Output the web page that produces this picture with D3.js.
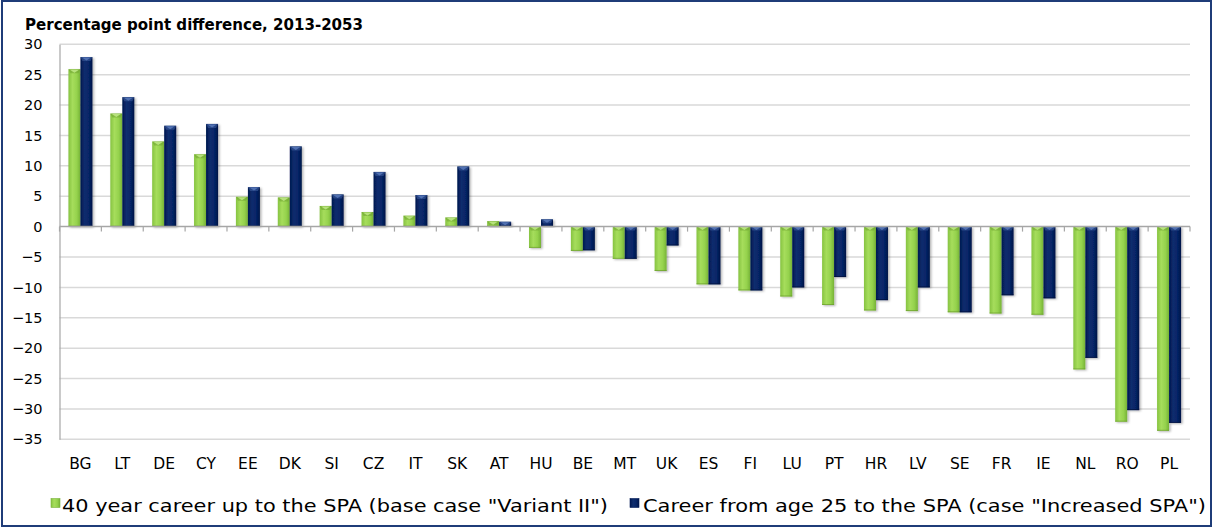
<!DOCTYPE html>
<html><head><meta charset="utf-8">
<script src="https://cdn.jsdelivr.net/npm/d3@7"></script>
<style>
html,body{margin:0;padding:0;background:#fff;}
svg{display:block;}
text{font-family:"DejaVu Sans",sans-serif;fill:#000;}
</style></head>
<body>
<svg id="chart" width="1213" height="531"></svg>
<script>
const categories = ["BG","LT","DE","CY","EE","DK","SI","CZ","IT","SK","AT","HU","BE","MT","UK","ES","FI","LU","PT","HR","LV","SE","FR","IE","NL","RO","PL"];
const variantII = [25.9,18.6,14.0,11.9,4.9,4.8,3.4,2.4,1.8,1.5,0.9,-3.5,-4.0,-5.3,-7.3,-9.5,-10.5,-11.5,-12.9,-13.8,-13.9,-14.1,-14.3,-14.5,-23.5,-32.1,-33.6];
const increasedSPA = [27.9,21.3,16.6,16.9,6.5,13.2,5.3,9.0,5.2,9.9,0.8,1.2,-3.9,-5.3,-3.1,-9.5,-10.5,-10.0,-8.3,-12.1,-10.0,-14.1,-11.3,-11.8,-21.6,-30.2,-32.3];
const yTicks = [30,25,20,15,10,5,0,-5,-10,-15,-20,-25,-30,-35];
const seriesNames = ["40 year career up to the SPA (base case \"Variant II\")", "Career from age 25 to the SPA (case \"Increased SPA\")"];
const title = "Percentage point difference, 2013-2053";

const svg = d3.select("#chart");
const defs = svg.append("defs");
function grad(id, stops){
  const g = defs.append("linearGradient").attr("id", id).attr("x1","0").attr("x2","1").attr("y1","0").attr("y2","0");
  stops.forEach(s => g.append("stop").attr("offset", s[0]).attr("stop-color", s[1]));
}
grad("gGreen", [[0,"#86c341"],[0.35,"#a6dd5c"],[0.7,"#95d24d"],[1,"#76b236"]]);
grad("gBlue", [[0,"#00184f"],[0.35,"#0e2d6e"],[0.7,"#062466"],[1,"#001547"]]);
const f = defs.append("filter").attr("id","sh").attr("x","-20%").attr("y","-5%").attr("width","150%").attr("height","115%");
f.append("feDropShadow").attr("dx",1.5).attr("dy",1).attr("stdDeviation",1).attr("flood-color","#000").attr("flood-opacity",0.3);

// frame
svg.append("rect").attr("x",2).attr("y",1).attr("width",1209).attr("height",525)
  .attr("fill","none").attr("stroke","#1f3c78").attr("stroke-width",2);

const x = d3.scaleBand().domain(categories).range([59.5, 1190]).paddingInner(0).paddingOuter(0);
const y = d3.scaleLinear().domain([-35, 30]).range([439.3, 44.3]);
const x1 = d3.scaleBand().domain([0,1]).range([x.bandwidth()/2 - 12, x.bandwidth()/2 + 12]);

// gridlines
svg.append("g").selectAll("line").data(yTicks.filter(d => d !== 0)).join("line")
  .attr("x1", x.range()[0]).attr("x2", x.range()[1])
  .attr("y1", d => y(d)).attr("y2", d => y(d))
  .attr("stroke","#d9d9d9").attr("stroke-width",1.5);

// y axis
const yAxis = svg.append("g").attr("transform", `translate(${x.range()[0]},0)`)
  .call(d3.axisLeft(y).tickValues(yTicks).tickSize(0).tickPadding(17));
yAxis.select(".domain").attr("stroke","#a6a6a6").attr("stroke-width",1.2);
yAxis.selectAll("text").style("font-family","DejaVu Sans").style("font-size","14.5px").attr("fill","#000");

// bars
const series = [variantII, increasedSPA];
const fills = ["url(#gGreen)","url(#gBlue)"];
const bevel = ["#6ea22f","#3f5f9f"];
const bottomEdge = ["#6a9d2c","#000f38"];
const gBars = svg.append("g");
categories.forEach((c, i) => {
  series.forEach((s, k) => {
    const v = s[i];
    const bx = x(c) + x1(k);
    const bw = x1.bandwidth();
    const top = Math.min(y(v), y(0));
    const h = Math.abs(y(v) - y(0));
    const g = gBars.append("g");
    g.append("rect").attr("x", bx).attr("y", top).attr("width", bw).attr("height", Math.max(h, 0.5))
      .attr("fill", fills[k]).attr("filter","url(#sh)");
    const bh = Math.min(4, h);
    g.append("path").attr("d", `M${bx},${top}L${bx+bw},${top}L${bx+bw-2},${top+bh}L${bx+bw/2},${top+bh}L${bx+2},${top+bh}Z`)
      .attr("fill", bevel[k]).attr("opacity", 0.55);
    g.append("path").attr("d", `M${bx+1.5},${top+0.5}L${bx+bw-1.5},${top+0.5}L${bx+bw/2},${top+Math.min(3.5,h)}Z`)
      .attr("fill", k === 0 ? "#c4ec8c" : "#5b7cbd").attr("opacity", 0.8);
    g.append("line").attr("x1", bx).attr("x2", bx+bw).attr("y1", top+h-0.5).attr("y2", top+h-0.5)
      .attr("stroke", bottomEdge[k]).attr("stroke-width",1).attr("opacity",0.7);
  });
});

// zero axis with boundary ticks
const zg = svg.append("g");
zg.append("line").attr("x1", x.range()[0]).attr("x2", x.range()[1]).attr("y1", y(0)).attr("y2", y(0))
  .attr("stroke","#a6a6a6").attr("stroke-width",1.5);
zg.selectAll("line.t").data(d3.range(categories.length + 1)).join("line").attr("class","t")
  .attr("x1", d => x.range()[0] + d * x.step()).attr("x2", d => x.range()[0] + d * x.step())
  .attr("y1", y(0)).attr("y2", y(0) + 5).attr("stroke","#a6a6a6").attr("stroke-width",1.2);

// category labels
const xAxis = svg.append("g").attr("transform", `translate(0,${y(-35)})`)
  .call(d3.axisBottom(x).tickSize(0).tickPadding(19));
xAxis.select(".domain").remove();
xAxis.selectAll("text").style("font-family","DejaVu Sans").style("font-size","15.5px").attr("fill","#000");

// title
svg.append("text").attr("x", 25).attr("y", 29.5).attr("font-weight","bold").attr("font-size","15px")
  .attr("textLength", 338).attr("lengthAdjust","spacingAndGlyphs").text(title);

// legend
const legendItems = [
  {name: seriesNames[0], sx: 51, tx: 62, tw: 546, fill: "url(#gGreen)", stroke:"#7ab33c"},
  {name: seriesNames[1], sx: 630, tx: 643, tw: 563, fill: "url(#gBlue)", stroke:"#001a57"}
];
const lg = svg.append("g");
legendItems.forEach(it => {
  lg.append("rect").attr("x", it.sx).attr("y", 498.5).attr("width", 9).attr("height", 9)
    .attr("fill", it.fill).attr("stroke", it.stroke).attr("stroke-width",0.6);
  lg.append("text").attr("x", it.tx).attr("y", 512).attr("font-size","17.5px")
    .attr("textLength", it.tw).attr("lengthAdjust","spacingAndGlyphs").text(it.name);
});
</script>
</body></html>
